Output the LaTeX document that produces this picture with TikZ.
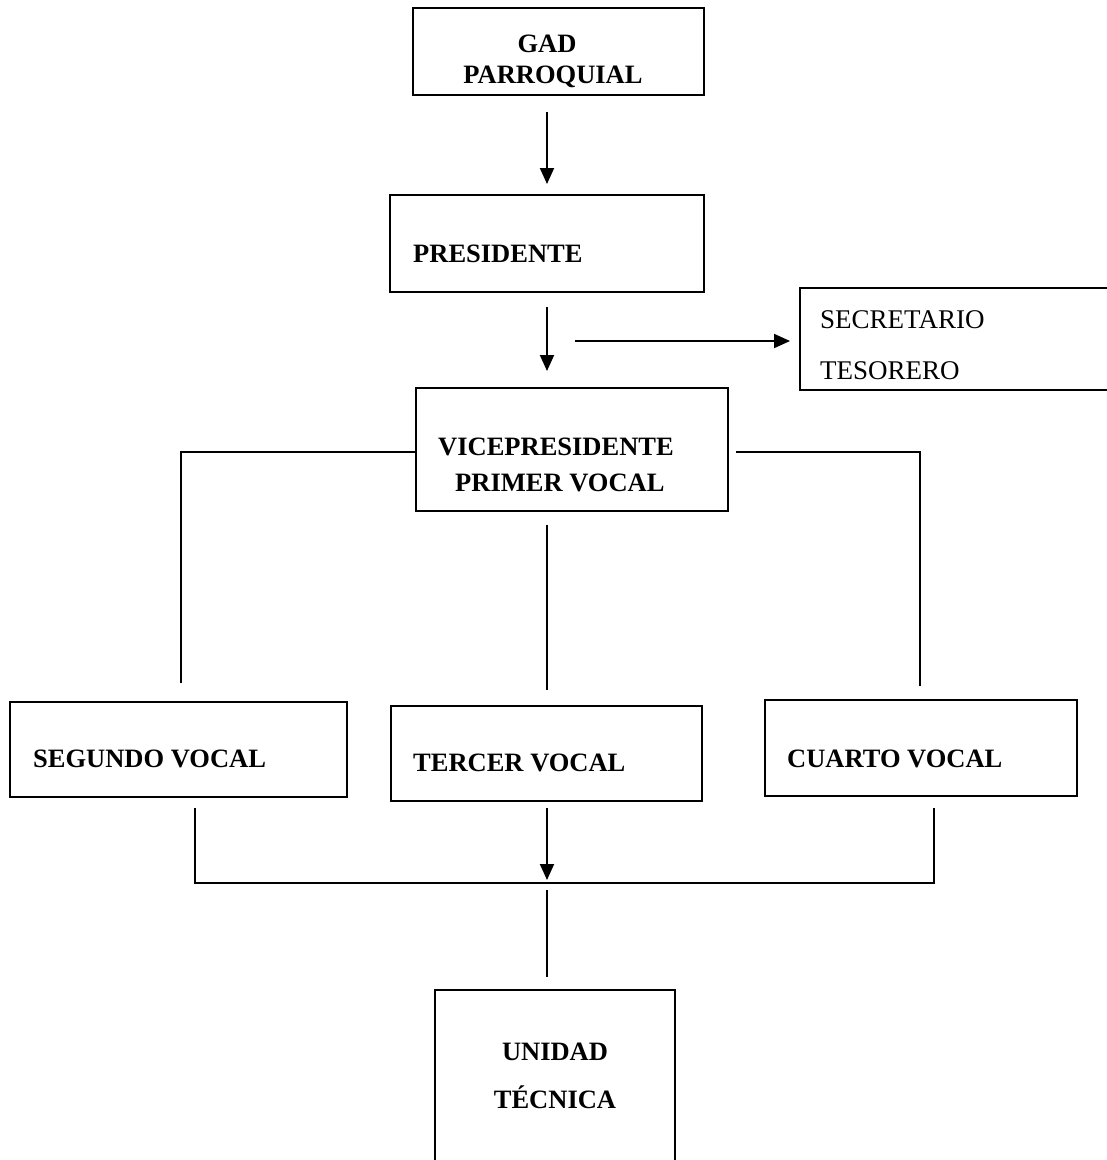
\documentclass[tikz,border=0pt]{standalone}
\usepackage{fontspec}
\setmainfont{Liberation Serif}
\usetikzlibrary{arrows.meta}
\begin{document}
\begin{tikzpicture}[x=1pt,y=-1pt,
 box/.style={draw,line width=1.9pt,inner sep=0pt,rectangle},
 lbl/.style={anchor=base west,inner sep=0pt,font=\fontsize{26.5}{30}\selectfont\bfseries},
 clbl/.style={anchor=base,inner sep=0pt,font=\fontsize{26.5}{30}\selectfont\bfseries},
 rlbl/.style={anchor=base west,inner sep=0pt,font=\fontsize{27}{30}\selectfont},
 ln/.style={line width=1.9pt},
 arr/.style={line width=1.9pt,-{Triangle[length=16pt,width=14pt]}}]
\useasboundingbox (0,0) rectangle (1107,1160);
\clip (0,0) rectangle (1107,1160);
% boxes
\node[box,minimum width=291pt,minimum height=87pt] (gad) at (558.5,51.5) {};
\node[box,minimum width=314pt,minimum height=97pt] (pres) at (547,243.5) {};
\node[box,minimum width=320pt,minimum height=102pt] (sec) at (960,339) {};
\node[box,minimum width=312pt,minimum height=123pt] (vice) at (572,449.5) {};
\node[box,minimum width=337pt,minimum height=95pt] (seg) at (178.5,749.5) {};
\node[box,minimum width=311pt,minimum height=95pt] (ter) at (546.5,753.5) {};
\node[box,minimum width=312pt,minimum height=96pt] (cua) at (921,748) {};
\node[box,minimum width=240pt,minimum height=190pt] (uni) at (555,1085) {};
% texts
\node[clbl] (t1) at (547,52) {GAD};
\node[clbl] (t2) at (553,83) {PARROQUIAL};
\node[lbl] (t3) at (413,262) {PRESIDENTE};
\node[rlbl] (t4) at (820,328) {SECRETARIO};
\node[rlbl] (t5) at (820,379) {TESORERO};
\node[lbl] (t6) at (438,455) {VICEPRESIDENTE};
\node[lbl] (t7) at (455,491) {PRIMER VOCAL};
\node[lbl] (t8) at (33,767) {SEGUNDO VOCAL};
\node[lbl] (t9) at (413,771) {TERCER VOCAL};
\node[lbl] (t10) at (787,767) {CUARTO VOCAL};
\node[clbl] (t11) at (555,1060) {UNIDAD};
\node[clbl] (t12) at (555,1108) {TÉCNICA};
% connector ends
\coordinate (a1s) at (547,112);
\coordinate (a1e) at (547,184);
\coordinate (a2s) at (547,307);
\coordinate (a2e) at (547,371);
\coordinate (hs) at (575,341);
\coordinate (he) at (sec.west |- hs);
\coordinate (lt) at (vice.west |- 0,452);
\coordinate (lb) at (181,683);
\coordinate (rt) at (736,452);
\coordinate (rb) at (920,686);
\coordinate (ms) at (547,525);
\coordinate (me) at (547,690);
\coordinate (bl) at (195,808);
\coordinate (bll) at (195,883);
\coordinate (brr) at (934,883);
\coordinate (br) at (934,808);
\coordinate (a3s) at (547,808);
\coordinate (a3e) at (547,880);
\coordinate (us) at (547,890);
\coordinate (ue) at (547,977);
% connectors
\draw[arr] (a1s) -- (a1e);
\draw[arr] (a2s) -- (a2e);
\draw[arr] (hs) -- ([xshift=-9pt]he);
\draw[ln] (lt) -| (lb);
\draw[ln] (rt) -| (rb);
\draw[ln] (ms) -- (me);
\draw[ln] (bl) -- (bll) -- (brr) -- (br);
\draw[arr] (a3s) -- (a3e);
\draw[ln] (us) -- (ue);
\end{tikzpicture}
\end{document}
